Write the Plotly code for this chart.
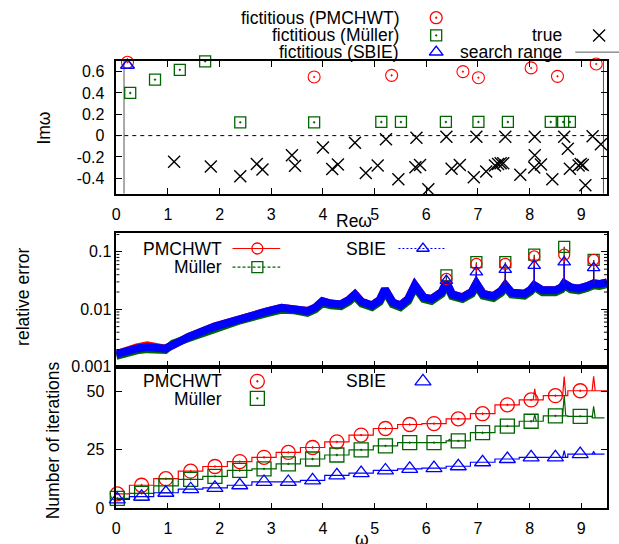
import numpy as np
import plotly.graph_objects as go

# ---------------- data ----------------
# top panel: resonance frequencies (Re w, Im w)
true_re = [1.12, 1.83, 2.40, 2.72, 2.83, 3.40, 3.46, 4.00, 4.18, 4.29, 4.62, 4.83, 5.06, 5.22,
           5.46, 5.79, 5.81, 5.88, 6.04, 6.39, 6.49, 6.65, 6.92, 6.97, 7.16, 7.33, 7.39, 7.44,
           7.49, 7.53, 7.82, 8.09, 8.10, 8.10, 8.22, 8.44, 8.67, 8.74, 8.78, 8.95, 8.99, 9.03,
           9.08, 9.22, 9.38]
true_im = [-0.245, -0.29, -0.38, -0.266, -0.318, -0.183, -0.282, -0.112, -0.312, -0.27, -0.066,
           -0.35, -0.28, -0.035, -0.41, -0.297, -0.02, -0.275, -0.503, -0.01, -0.31, -0.275,
           -0.39, -0.01, -0.337, -0.28, -0.265, -0.26, -0.26, -0.01, -0.368, -0.30, -0.183,
           -0.01, -0.27, -0.41, -0.01, -0.122, -0.31, -0.28, -0.265, -0.275, -0.466, -0.005, -0.08]
fict_pm_re = [0.217, 3.83, 5.33, 6.71, 7.01, 8.03, 8.54, 9.29]
fict_pm_im = [0.688, 0.55, 0.565, 0.60, 0.543, 0.635, 0.556, 0.672]
fict_mu_re = [0.27, 0.75, 1.23, 1.72, 2.40, 3.83, 5.13, 5.51, 6.38, 7.01, 7.58, 8.41, 8.65, 8.78]
fict_mu_im = [0.40, 0.525, 0.617, 0.697, 0.125, 0.125, 0.128, 0.128, 0.128, 0.128, 0.128, 0.128, 0.128, 0.128]
fict_sb_re = [0.217]
fict_sb_im = [0.66]
search_range = [0.15, 9.43]

# middle panel: relative error
err_re = [0.0, 0.15, 0.4, 0.6, 0.8, 0.95, 1.1, 1.4, 1.9, 2.4, 2.9, 3.2, 3.45, 3.7, 3.85, 3.99,
          4.15, 4.35, 4.5, 4.62, 4.75, 4.95, 5.1, 5.2, 5.35, 5.5, 5.65, 5.78, 5.95, 6.1, 6.3,
          6.39, 6.5, 6.7, 6.88, 6.97, 7.1, 7.3, 7.45, 7.53, 7.65, 7.9, 8.02, 8.09, 8.25, 8.5,
          8.62, 8.67, 8.8, 8.95, 9.1, 9.24, 9.35, 9.5]
err_sb = [0.00166, 0.00186, 0.00209, 0.00221, 0.00214, 0.00207, 0.0024, 0.00331, 0.00501, 0.00692,
          0.00912, 0.0106, 0.01035, 0.00933, 0.0107, 0.0138, 0.0126, 0.0122, 0.0145, 0.0182,
          0.0135, 0.0117, 0.0145, 0.0224, 0.0132, 0.0117, 0.0151, 0.0263, 0.0162, 0.0151, 0.020,
          0.0295, 0.0182, 0.0162, 0.020, 0.0282, 0.0186, 0.017, 0.0209, 0.0263, 0.0195, 0.0186,
          0.0219, 0.0263, 0.0214, 0.0214, 0.024, 0.0282, 0.024, 0.0229, 0.0251, 0.0282, 0.0275, 0.0295]
err_mu = [0.00155, 0.00173, 0.00194, 0.00203, 0.00199, 0.00196, 0.00255, 0.00318, 0.00466, 0.00644,
          0.00848, 0.00986, 0.00963, 0.00868, 0.00995, 0.0128, 0.0117, 0.0113, 0.0135, 0.0169,
          0.0126, 0.0109, 0.0135, 0.0208, 0.0123, 0.0109, 0.0140, 0.0245, 0.0151, 0.0140, 0.0186,
          0.0274, 0.0169, 0.0151, 0.0186, 0.0262, 0.0173, 0.0158, 0.0194, 0.0245, 0.0181, 0.0173,
          0.0204, 0.0245, 0.0199, 0.0199, 0.0223, 0.0262, 0.0223, 0.0213, 0.0233, 0.0262, 0.0256, 0.0274]
err_pm = [0.00166, 0.00186, 0.00218, 0.00236, 0.00229, 0.00207, 0.0024, 0.00331, 0.00501, 0.00692,
          0.00912, 0.0106, 0.01035, 0.00933, 0.0107, 0.0138, 0.0126, 0.0122, 0.0145, 0.0182,
          0.0135, 0.0117, 0.0145, 0.0224, 0.0132, 0.0117, 0.0151, 0.0263, 0.0162, 0.0151, 0.020,
          0.0295, 0.0182, 0.0162, 0.020, 0.0282, 0.0186, 0.017, 0.0209, 0.0263, 0.0195, 0.0186,
          0.0219, 0.0263, 0.0214, 0.0214, 0.024, 0.0282, 0.024, 0.0229, 0.0251, 0.0282, 0.0275, 0.0295]
spike_re = [6.39, 6.97, 7.53, 8.09, 8.67, 9.24]
spike_pm = [0.0339, 0.0617, 0.0617, 0.0832, 0.0891, 0.0724]
spike_mu = [0.0389, 0.0661, 0.0661, 0.0891, 0.122, 0.0724]
spike_sb = [0.0316, 0.0442, 0.049, 0.0575, 0.0661, 0.0525]

# bottom panel: number of iterations
it_re = [0.02, 0.49, 0.96, 1.44, 1.91, 2.39, 2.86, 3.33, 3.80, 4.27, 4.74, 5.21, 5.68, 6.15,
         6.62, 7.09, 7.57, 8.03, 8.50, 8.98]
it_pm = [6.2, 9.9, 12.7, 15.9, 17.9, 20.0, 21.8, 23.9, 26.0, 28.4, 31.3, 34.1, 35.8, 36.2,
         38.2, 40.4, 44.2, 46.3, 48.1, 50.2]
it_mu = [4.3, 6.4, 9.6, 12.4, 13.7, 16.2, 16.9, 19.0, 21.1, 22.8, 25.0, 26.7, 28.1, 28.1,
         28.8, 32.3, 35.1, 37.2, 39.5, 39.3]
it_sb = [3.9, 5.0, 6.7, 8.2, 8.8, 9.9, 11.3, 11.3, 12.0, 14.1, 15.1, 16.2, 16.9, 17.2,
         18.0, 19.7, 21.1, 21.8, 21.8, 23.2]
it_end_re = [9.5, 9.45, 9.45]
it_end = [50.2, 38.6, 23.2]
itspk_pm_re = [8.10, 8.67, 9.24]
itspk_pm = [51.0, 56.3, 56.3]
itspk_mu_re = [6.45, 8.10, 8.67, 9.24]
itspk_mu = [29.5, 40.0, 48.3, 43.5]
itspk_sb_re = [8.67, 9.24]
itspk_sb = [24.7, 24.2]

# ---------------- style ----------------
W, H = 619, 544
FONT = "Liberation Sans, Arial, sans-serif"
RED, GREEN, BLUE = "#ff0000", "#006400", "#0000ff"
TICKF = 16
TXTF = 17.5


def px(x):
    return x / W


def py(y):
    return 1 - y / H


fig = go.Figure()

# ---- top panel ----
fig.add_trace(go.Scatter(x=[0, 9.5], y=[0, 0], mode="lines", xaxis="x", yaxis="y",
                         line=dict(color="black", width=1, dash="4px,4px")))
for s in search_range:
    fig.add_trace(go.Scatter(x=[s, s], y=[-0.545, 0.7], mode="lines", xaxis="x", yaxis="y",
                             line=dict(color="#555555", width=1)))
fig.add_trace(go.Scatter(x=true_re, y=true_im, mode="markers", xaxis="x", yaxis="y", cliponaxis=False,
                         marker=dict(symbol="x-thin-open", size=12, color="black",
                                     line=dict(color="black", width=1.4))))
fig.add_trace(go.Scatter(x=fict_mu_re, y=fict_mu_im, mode="markers", xaxis="x", yaxis="y", cliponaxis=False,
                         marker=dict(symbol="square-open-dot", size=11, color=GREEN, line=dict(color=GREEN, width=1.3))))
fig.add_trace(go.Scatter(x=fict_pm_re, y=fict_pm_im, mode="markers", xaxis="x", yaxis="y", cliponaxis=False,
                         marker=dict(symbol="circle-open-dot", size=12, color=RED, line=dict(color=RED, width=1.1))))
fig.add_trace(go.Scatter(x=fict_sb_re, y=fict_sb_im, mode="markers", xaxis="x", yaxis="y", cliponaxis=False,
                         marker=dict(symbol="triangle-up-open", size=12, color=BLUE, line=dict(color=BLUE, width=1.5))))

# ---- middle panel ----
for ys, col in ((err_pm, RED), (err_mu, GREEN), (err_sb, BLUE)):
    fig.add_trace(go.Scatter(x=err_re, y=ys, mode="lines", xaxis="x2", yaxis="y2",
                             line=dict(color=col, width=8)))
base_of = dict(zip(err_re, err_sb))
for tops, col, sym in ((spike_mu, GREEN, "square-open"), (spike_pm, RED, "circle-open"),
                       (spike_sb, BLUE, "triangle-up-open")):
    xs, ys = [], []
    for r, t in zip(spike_re, tops):
        xs += [r, r, None]
        ys += [base_of[r], t, None]
    fig.add_trace(go.Scatter(x=xs, y=ys, mode="lines", xaxis="x2", yaxis="y2",
                             line=dict(color=col, width=1.3)))
    fig.add_trace(go.Scatter(x=spike_re, y=tops, mode="markers", xaxis="x2", yaxis="y2",
                             marker=dict(symbol=sym, size=11, color=col, line=dict(color=col, width=1.3))))

# minor log ticks of the middle panel, drawn on its own scale (left and right sides)
minor_vals = [m * 10.0 ** e for e in (-3, -2, -1) for m in range(2, 10) if m * 10.0 ** e < 0.21]
mx, my = [], []
for v in minor_vals:
    mx += [0, 0.06, None, 9.44, 9.5, None]
    my += [v, v, None, v, v, None]
fig.add_trace(go.Scatter(x=mx, y=my, mode="lines", xaxis="x2", yaxis="y2",
                         line=dict(color="black", width=1)))


# ---- bottom panel ----
def step_val(xs, ys, x):
    for i in range(len(xs) - 1):
        if x < (xs[i] + xs[i + 1]) / 2:
            return ys[i]
    return ys[-1]


series = ((it_pm, it_end_re[0], it_end[0], itspk_pm_re, itspk_pm, RED, "circle-open-dot"),
          (it_mu, it_end_re[1], it_end[1], itspk_mu_re, itspk_mu, GREEN, "square-open-dot"),
          (it_sb, it_end_re[2], it_end[2], itspk_sb_re, itspk_sb, BLUE, "triangle-up-open"))
for vals, er, ev, sr, sv, col, sym in series:
    lx = [0.0] + it_re + [er]
    ly = [vals[0]] + vals + [ev]
    fig.add_trace(go.Scatter(x=lx, y=ly, mode="lines", line_shape="hvh", xaxis="x3", yaxis="y3",
                             line=dict(color=col, width=1.2)))
    xs, ys = [], []
    for r, t in zip(sr, sv):
        b = step_val(lx, ly, r)
        xs += [r - 0.03, r, r + 0.03, None]
        ys += [b, t, b, None]
    fig.add_trace(go.Scatter(x=xs, y=ys, mode="lines", xaxis="x3", yaxis="y3",
                             line=dict(color=col, width=1.2)))
    fig.add_trace(go.Scatter(x=it_re, y=vals, mode="markers", xaxis="x3", yaxis="y3", cliponaxis=False,
                             marker=dict(symbol=sym, size=14, color=col, line=dict(color=col, width=1.3))))


# ---- legend keys (overlay pixel axis) ----
def key(xp, yp, sym, col, size=12, width=1.3):
    fig.add_trace(go.Scatter(x=[xp], y=[yp], mode="markers", xaxis="x4", yaxis="y4", cliponaxis=False,
                             marker=dict(symbol=sym, size=size, color=col, line=dict(color=col, width=width))))


def keyline(x0, x1, yp, col, dash="solid", width=1.2):
    fig.add_trace(go.Scatter(x=[x0, x1], y=[yp, yp], mode="lines", xaxis="x4", yaxis="y4", cliponaxis=False,
                             line=dict(color=col, width=width, dash=dash)))


key(435, 18, "circle-open-dot", RED)
key(435, 36, "square-open-dot", GREEN, 11)
key(435, 53, "triangle-up-open", BLUE, 12, 1.5)
key(599, 36, "x-thin-open", "black", 12, 1.4)
keyline(575, 625, 53, "#555555", width=1)

keyline(230, 278, 252.7, RED)
key(255, 252.7, "circle-open", RED, 11)
keyline(230, 278, 271.7, GREEN, "3px,2px")
key(255, 271.7, "square-open", GREEN, 11)
keyline(397, 445, 252.7, BLUE, "2px,2px")
key(421.7, 252.7, "triangle-up-open", BLUE, 11)

key(255, 387.7, "circle-open-dot", RED, 14)
key(255, 405, "square-open-dot", GREEN, 14)
key(421.7, 387.7, "triangle-up-open", BLUE, 14)

for tr in fig.data:
    tr.showlegend = False
    tr.hoverinfo = "skip"

# ---- annotations ----
ann = []


def text(t, xp, yp, xanchor="center", angle=0, size=TXTF):
    ann.append(dict(text=t, x=px(xp), y=py(yp), xref="paper", yref="paper", showarrow=False,
                    xanchor=xanchor, yanchor="middle", textangle=angle,
                    font=dict(family=FONT, size=size, color="black")))


text("fictitious (PMCHWT)", 400, 18, "right")
text("fictitious (Müller)", 400, 36, "right")
text("fictitious (SBIE)", 400, 53, "right")
text("true", 564, 36, "right")
text("search range", 564, 53, "right")
text("PMCHWT", 221, 252.7, "right")
text("Müller", 221, 271.7, "right")
text("SBIE", 387, 252.7, "right")
text("PMCHWT", 221, 387.7, "right")
text("Müller", 221, 405.5, "right")
text("SBIE", 387, 387.7, "right")
text("Imω", 40, 130, angle=-90)
text("relative error", 19, 302, angle=-90)
text("Number of iterations", 49, 448, angle=-90)
text("Reω", 352, 225)
text("ω", 360, 548)

XD = [px(113), px(607)]


def axstyle(**kw):
    d = dict(showline=True, linecolor="black", linewidth=1.5, ticks="inside", ticklen=6,
             tickcolor="black", tickwidth=1, showgrid=False, zeroline=False,
             tickfont=dict(family=FONT, size=TICKF, color="black"))
    d.update(kw)
    return d


xt = dict(tickmode="array", tickvals=list(range(10)), ticktext=[str(i) for i in range(10)])

fig.update_layout(
    width=W, height=H, margin=dict(l=0, r=0, t=0, b=0),
    paper_bgcolor="white", plot_bgcolor="rgba(0,0,0,0)", showlegend=False,
    font=dict(family=FONT, color="black"),
    annotations=ann,
    xaxis=axstyle(domain=XD, anchor="y", range=[0, 9.5], mirror="allticks", ticklabelstandoff=5, **xt),
    yaxis=axstyle(domain=[py(197), py(62)], anchor="x", range=[-0.545, 0.7], mirror="allticks",
                  tickmode="array", tickvals=[-0.4, -0.2, 0, 0.2, 0.4, 0.6],
                  ticktext=["-0.4", "-0.2", "0", "0.2", "0.4", "0.6"], ticklabelstandoff=7),
    xaxis2=axstyle(domain=XD, anchor="y2", range=[0, 9.5], mirror=True, showticklabels=False, **xt),
    yaxis2=axstyle(domain=[py(373), py(237.3)], anchor="x2", type="log", range=[-3, -0.679], mirror="allticks",
                   tickmode="array", tickvals=[0.001, 0.01, 0.1], ticktext=["0.001", "0.01", "0.1"]),
    xaxis3=axstyle(domain=XD, anchor="y3", range=[0, 9.5], mirror="allticks", ticklabelstandoff=5, **xt),
    yaxis3=axstyle(domain=[py(517), py(373)], anchor="x3", range=[0, 60.4], mirror="allticks",
                   tickmode="array", tickvals=[0, 25, 50], ticktext=["0", "25", "50"], ticklabelstandoff=7),
    xaxis4=dict(domain=[0, 1], anchor="y4", range=[0, W], visible=False, fixedrange=True),
    yaxis4=dict(domain=[0, 1], anchor="x4", range=[H, 0], visible=False, fixedrange=True),
)

fig.write_html("out.html")
